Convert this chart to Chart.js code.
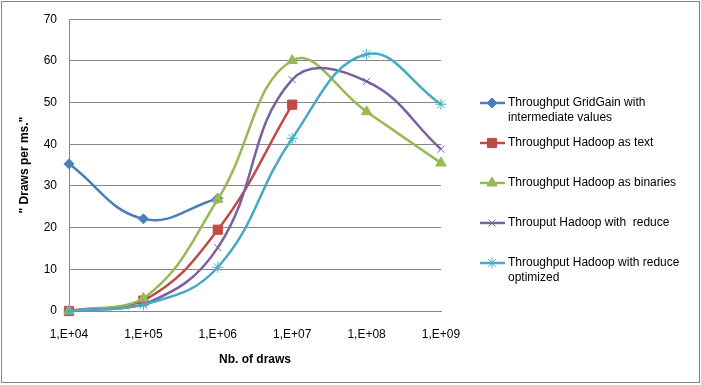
<!DOCTYPE html>
<html lang="en">
  <head>
    <meta charset="UTF-8" />
    <title>Throughput</title>
    <script src="https://cdn.jsdelivr.net/npm/chart.js@4.4.1/dist/chart.umd.min.js"></script>
    <style>
      body {
        margin: 0;
        padding: 0;
        background: #fff;
      }

      .chart-container {
        width: 701px;
        height: 385px;
        position: relative;
      }
    </style>
  </head>

  <body>
    <div class="chart-container">
      <canvas id="chart"></canvas>
    </div>

    <script>
      var draws = ["1,E+04", "1,E+05", "1,E+06", "1,E+07", "1,E+08", "1,E+09"];

      var gridGain = [35.3, 22.1, 27, null, null, null];
      var hadoopText = [0, 2.5, 19.5, 49.5, null, null];
      var hadoopBinaries = [0, 3, 26.8, 60.1, 47.8, 35.5];
      var hadoopReduce = [0, 1.5, 15.2, 55.5, 55.1, 38.8];
      var hadoopReduceOpt = [0, 1.5, 10.5, 41.4, 61.6, 49.6];

      var seriesNames = [
        ["Throughput GridGain with", "intermediate values"],
        ["Throughput Hadoop as text"],
        ["Throughput Hadoop as binaries"],
        ["Throuput Hadoop with  reduce"],
        ["Throughput Hadoop with reduce", "optimized"],
      ];

      var colors = ["#4a7ebb", "#be4b48", "#98b954", "#7d60a0", "#46aac5"];
      var markers = ["rectRot", "rect", "triangle", "crossRot", "star"];
      var markerSize = [5, 6.5, 6, 5, 5.5];
      var grey = "#868686";
      var font = "'Liberation Sans', Arial, sans-serif";

      function makeSet(i, values) {
        return {
          label: seriesNames[i].join(" "),
          data: values,
          borderColor: colors[i],
          backgroundColor: colors[i],
          borderWidth: 2.5,
          pointStyle: markers[i],
          pointRadius: markerSize[i],
          pointBorderWidth: 1,
          pointBorderColor: colors[i],
          pointBackgroundColor: colors[i],
          tension: 0.42,
          spanGaps: false,
          clip: false,
          order: 4 - i,
        };
      }

      // legend + frame, Excel style
      var sideLegend = {
        id: "sideLegend",
        afterDraw(chart) {
          let ctx = chart.ctx;
          ctx.save();
          ctx.strokeStyle = grey;
          ctx.lineWidth = 1;
          ctx.strokeRect(1.5, 1.5, 698, 381);

          ctx.font = "12px " + font;
          ctx.textBaseline = "middle";
          for (let i = 0; i < seriesNames.length; i++) {
            let y = 103 + i * 40;
            ctx.strokeStyle = colors[i];
            ctx.lineWidth = 2.5;
            ctx.beginPath();
            ctx.moveTo(480, y);
            ctx.lineTo(505, y);
            ctx.stroke();
            ctx.fillStyle = colors[i];
            ctx.lineWidth = 1;
            Chart.helpers.drawPoint(
              ctx,
              { pointStyle: markers[i], radius: markerSize[i], rotation: 0, borderWidth: 1 },
              492,
              y
            );
            ctx.fillStyle = "#000";
            seriesNames[i].forEach((line, j) => {
              ctx.fillText(line, 508, y + j * 15);
            });
          }
          ctx.restore();
        },
      };

      var ctx = document.getElementById("chart").getContext("2d");
      var myChart = new Chart(ctx, {
        type: "line",
        data: {
          labels: draws,
          datasets: [
            makeSet(0, gridGain),
            makeSet(1, hadoopText),
            makeSet(2, hadoopBinaries),
            makeSet(3, hadoopReduce),
            makeSet(4, hadoopReduceOpt),
          ],
        },
        options: {
          responsive: true,
          maintainAspectRatio: false,
          animation: false,
          events: [],
          layout: {
            padding: { left: 0, top: 16, right: 260, bottom: 0 },
          },
          plugins: {
            legend: { display: false },
            tooltip: { enabled: false },
          },
          scales: {
            x: {
              offset: false,
              grid: { display: false, drawTicks: false },
              border: { color: grey, width: 1 },
              ticks: {
                color: "#000",
                padding: 16,
                maxRotation: 0,
                font: { family: font, size: 12 },
              },
              title: {
                display: true,
                text: "Nb. of draws",
                color: "#000",
                padding: { top: 0, bottom: 18 },
                font: { family: font, size: 12, weight: "bold" },
              },
              afterFit(scale) {
                scale.height = 74;
              },
            },
            y: {
              min: 0,
              max: 70,
              grid: { color: grey, drawTicks: false },
              border: { color: grey, width: 1 },
              ticks: {
                stepSize: 10,
                color: "#000",
                padding: 12,
                font: { family: font, size: 12 },
              },
              title: {
                display: true,
                text: "\" Draws per ms.\"",
                color: "#000",
                padding: { top: 17 },
                font: { family: font, size: 12, weight: "bold" },
              },
              afterFit(scale) {
                scale.width = 69;
              },
            },
          },
        },
        plugins: [sideLegend],
      });
    </script>
  </body>
</html>
